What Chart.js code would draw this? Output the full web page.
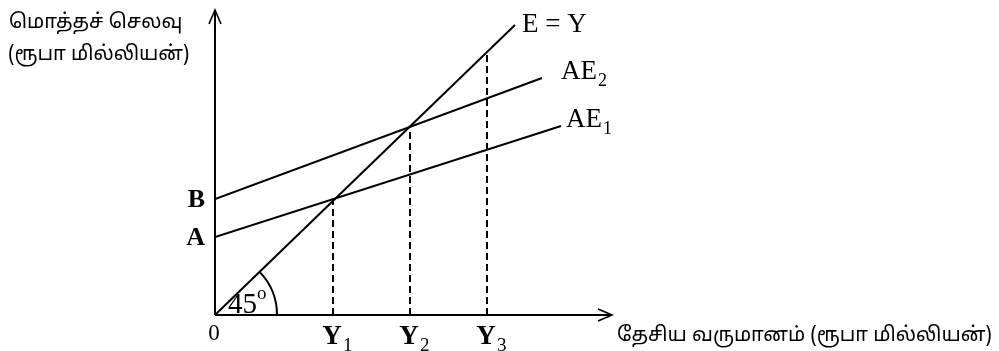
<!DOCTYPE html>
<html><head><meta charset="utf-8">
<script src="https://cdn.jsdelivr.net/npm/chart.js@4.4.1/dist/chart.umd.min.js"></script>
<style>html,body{margin:0;padding:0;background:#fff}#w{width:999px;height:351px}</style>
</head><body><div id="w"><canvas id="c" width="999" height="351"></canvas></div>
<script>
// Diagram values (abstract income / expenditure units)
const lineEY = [{x:0,y:0},{x:30,y:29}];
const lineAE1 = [{x:0,y:7.8},{x:34.6,y:18.9}];
const lineAE2 = [{x:0,y:11.6},{x:32.7,y:23.7}];
const incomeLevels = [11.8, 19.5, 27.2];        // Y1, Y2, Y3
const equilibriumSpend = [11.5, 18.8, 26.3];     // heights of the dashed guides
const incomeLabels = ['Y', 'Y', 'Y'];
const incomeSubs = ['1', '2', '3'];
const interceptValues = [7.8, 11.6];
const interceptLabels = ['A', 'B'];
const axisMax = {x:39.7, y:30.5};
const yTitle = ['மொத்தச் செலவு', '(ரூபா மில்லியன்)'];
const xTitle = 'தேசிய வருமானம் (ரூபா மில்லியன்)';

const dashed = incomeLevels.map((v,i)=>({
  data:[{x:v,y:0},{x:v,y:equilibriumSpend[i]}],
  borderColor:'#000', borderWidth:2, borderDash:[7,4], pointRadius:0, fill:false
}));

const serif = "'Liberation Serif','Times New Roman',serif";
const tamil = "'Noto Sans Tamil','Lohit Tamil','Latha','FreeSans',sans-serif";

const annot = {
  id:'annot',
  afterDatasetsDraw(chart){
    const {ctx, scales:{x, y}} = chart;
    const x0 = x.getPixelForValue(0), y0 = y.getPixelForValue(0);
    const xe = x.getPixelForValue(axisMax.x), ye = y.getPixelForValue(axisMax.y);
    ctx.save();
    ctx.strokeStyle='#000'; ctx.fillStyle='#000'; ctx.lineWidth=2;
    // axes
    ctx.beginPath(); ctx.moveTo(x0,y0); ctx.lineTo(xe-2,y0); ctx.stroke();
    ctx.beginPath(); ctx.moveTo(x0,y0); ctx.lineTo(x0,ye+2); ctx.stroke();
    ctx.lineWidth=1.6;
    ctx.beginPath(); ctx.moveTo(xe-14,y0-6); ctx.lineTo(xe,y0); ctx.lineTo(xe-14,y0+6); ctx.stroke();
    ctx.beginPath(); ctx.moveTo(x0-6,ye+14); ctx.lineTo(x0,ye); ctx.lineTo(x0+6,ye+14); ctx.stroke();
    // 45 degree arc
    ctx.lineWidth=2;
    const r = 62;
    ctx.beginPath(); ctx.arc(x0,y0,r,-Math.atan2(29,30),0); ctx.stroke();
    ctx.textBaseline='alphabetic';
    ctx.font = "29px "+serif; ctx.textAlign='left';
    ctx.fillText('45', x0+13, y0-2);
    ctx.font = "19px "+serif;
    ctx.fillText('o', x0+42, y0-16);
    // origin label
    ctx.font = "23px "+serif; ctx.textAlign='center';
    ctx.fillText('0', x0-1, y0+25);
    // income labels
    incomeLevels.forEach((v,i)=>{
      const px = x.getPixelForValue(v);
      ctx.font = "bold 27px "+serif; ctx.textAlign='center';
      ctx.fillText(incomeLabels[i], px-1, y0+29);
      ctx.font = "19px "+serif; ctx.textAlign='left';
      ctx.fillText(incomeSubs[i], px+10, y0+36);
    });
    // intercept labels
    interceptValues.forEach((v,i)=>{
      const py = y.getPixelForValue(v);
      ctx.font = "bold 26px "+serif; ctx.textAlign='right';
      ctx.fillText(interceptLabels[i], x0-10, py+8);
    });
    // line labels
    const ey = lineEY[1], a1 = lineAE1[1], a2 = lineAE2[1];
    ctx.textAlign='left';
    ctx.font = "27px "+serif;
    ctx.fillText('E = Y', x.getPixelForValue(ey.x)+7, y.getPixelForValue(ey.y)+7);
    ctx.fillText('AE', x.getPixelForValue(a2.x)+19, y.getPixelForValue(a2.y)+1);
    ctx.fillText('AE', x.getPixelForValue(a1.x)+5, y.getPixelForValue(a1.y)+1);
    ctx.font = "18px "+serif;
    ctx.fillText('2', x.getPixelForValue(a2.x)+56, y.getPixelForValue(a2.y)+8);
    ctx.fillText('1', x.getPixelForValue(a1.x)+42, y.getPixelForValue(a1.y)+8);
    // Tamil titles
    ctx.font = "20px "+tamil; ctx.textAlign='left';
    ctx.fillText(yTitle[0], 9, 28);
    ctx.fillText(yTitle[1], 8, 60);
    ctx.fillText(xTitle, xe+5, y0+26);
    ctx.restore();
  }
};

new Chart(document.getElementById('c'), {
  type:'line',
  data:{datasets:[
    {data:lineEY, borderColor:'#000', borderWidth:2, pointRadius:0, fill:false},
    {data:lineAE2, borderColor:'#000', borderWidth:2, pointRadius:0, fill:false},
    {data:lineAE1, borderColor:'#000', borderWidth:2, pointRadius:0, fill:false},
    ...dashed
  ]},
  options:{
    responsive:false, animation:false, events:[],
    layout:{padding:{left:215, right:999-612, top:10, bottom:351-315}},
    plugins:{legend:{display:false}, tooltip:{enabled:false}},
    scales:{
      x:{type:'linear', min:0, max:axisMax.x, display:false},
      y:{type:'linear', min:0, max:axisMax.y, display:false}
    }
  },
  plugins:[annot]
});
</script></body></html>
